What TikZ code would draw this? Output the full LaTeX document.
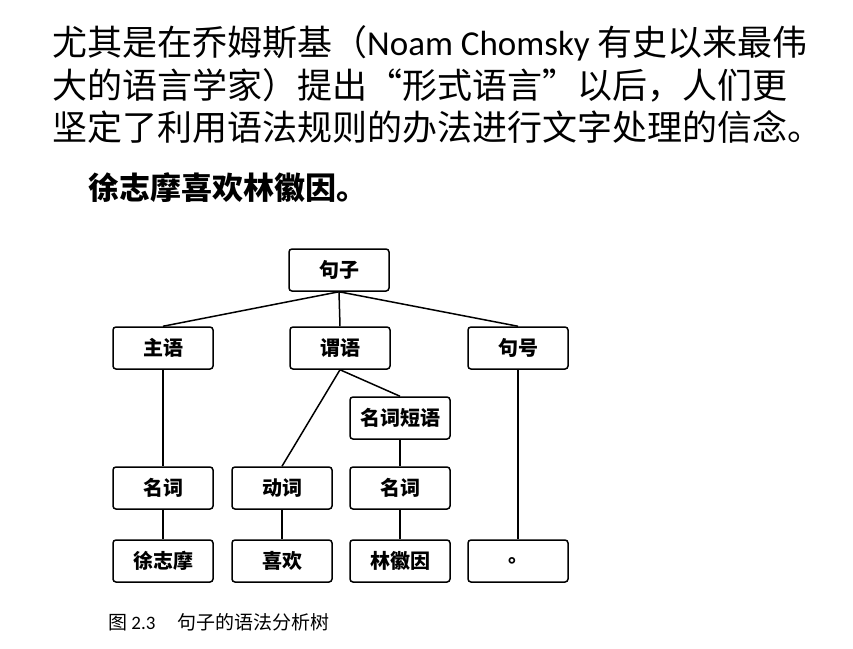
\documentclass[tikz,border=0pt]{standalone}
\usepackage{fontspec}
\setmainfont{Carlito}
\newfontfamily\cjk{Noto Sans CJK SC}
\newfontfamily\latin{Carlito}

\tikzset{
  para/.style={anchor=base west, inner sep=0pt, font=\cjk\fontsize{35}{35}\selectfont},
  treebox/.style={draw, line width=1.5pt, rounded corners=3pt, minimum width=100pt, minimum height=42pt,
    inner sep=0pt, font=\cjk\bfseries\fontsize{20}{20}\selectfont},
  branch/.style={line width=1.5pt}
}

\begin{document}
\begin{tikzpicture}[x=1pt, y=-1pt]
    \useasboundingbox (0,0) rectangle (853,648);

    % Texte
    \node[para] (line1) at (52,55) {尤其是在乔姆斯基（{\latin Noam Chomsky} 有史以来最伟};
    \node[para] (line2) at (52,98) {大的语言学家）提出“形式语言”以后，人们更};
    \node[para] (line3) at (52,140) {坚定了利用语法规则的办法进行文字处理的信念。};

    % Phrase analysee
    \node[para, font=\cjk\bfseries\fontsize{31}{31}\selectfont] (sample) at (88,199) {徐志摩喜欢林徽因。};

    % Arbre
    \node[treebox] (root) at (339,270) {句子};
    \node[treebox] (subj) at (163,348) {主语};
    \node[treebox] (pred) at (340,348) {谓语};
    \node[treebox] (punc) at (518,348) {句号};
    \node[treebox] (np) at (400,418) {名词短语};
    \node[treebox] (noun1) at (163,488) {名词};
    \node[treebox] (verb) at (282,488) {动词};
    \node[treebox] (noun2) at (400,488) {名词};
    \node[treebox] (word1) at (163,561) {徐志摩};
    \node[treebox] (word2) at (282,561) {喜欢};
    \node[treebox] (word3) at (400,561) {林徽因};
    \node[treebox] (word4) at (518,561) {。};

    % Branches
    \draw[branch] (root.south) -- (subj.north);
    \draw[branch] (root.south) -- (pred.north);
    \draw[branch] (root.south) -- (punc.north);
    \draw[branch] (pred.south) -- (verb.north);
    \draw[branch] (pred.south) -- (np.north);
    \draw[branch] (subj.south) -- (noun1.north);
    \draw[branch] (np.south) -- (noun2.north);
    \draw[branch] (punc.south) -- (word4.north);
    \draw[branch] (noun1.south) -- (word1.north);
    \draw[branch] (verb.south) -- (word2.north);
    \draw[branch] (noun2.south) -- (word3.north);

    % Legende
    \node[para, font=\cjk\fontsize{19}{19}\selectfont] (caption) at (108,629) {图 {\latin 2.3}\hspace{22pt}句子的语法分析树};
\end{tikzpicture}
\end{document}
